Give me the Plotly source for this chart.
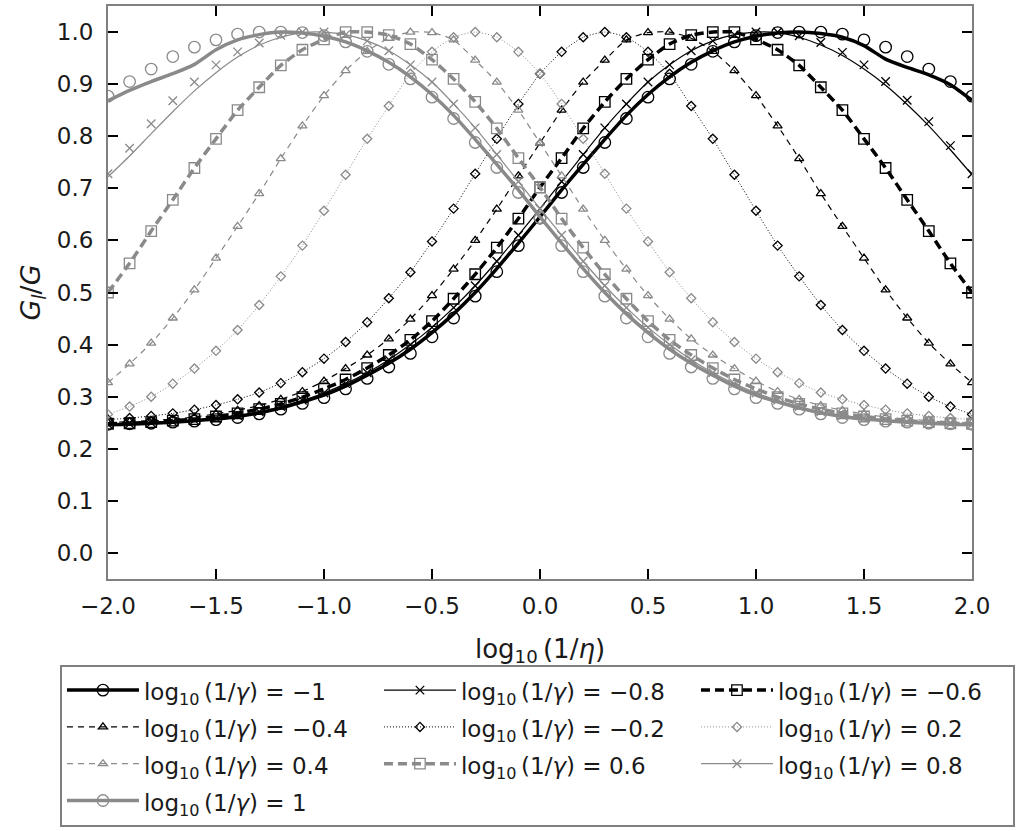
import plotly.graph_objects as go

# x positions: log10(1/eta)
eta_log = [-2.0, -1.9, -1.8, -1.7, -1.6, -1.5, -1.4, -1.3, -1.2, -1.1, -1.0,
           -0.9, -0.8, -0.7, -0.6, -0.5, -0.4, -0.3, -0.2, -0.1, 0.0,
           0.1, 0.2, 0.3, 0.4, 0.5, 0.6, 0.7, 0.8, 0.9, 1.0,
           1.1, 1.2, 1.3, 1.4, 1.5, 1.6, 1.7, 1.8, 1.9, 2.0]

gamma_labels = ["−1", "−0.8", "−0.6", "−0.4", "−0.2", "0.2", "0.4", "0.6", "0.8", "1"]

# ---- marker values (points) and line values for each log10(1/gamma) ----
pts_m10 = [0.247, 0.248, 0.249, 0.251, 0.253, 0.256, 0.260, 0.267, 0.276, 0.287, 0.298,
           0.315, 0.335, 0.357, 0.383, 0.415, 0.451, 0.493, 0.540, 0.590, 0.643,
           0.692, 0.740, 0.788, 0.834, 0.875, 0.910, 0.938, 0.963, 0.981, 0.993,
           0.999, 1.000, 1.000, 0.996, 0.985, 0.971, 0.953, 0.929, 0.905, 0.877]
line_m10 = [0.246, 0.247, 0.249, 0.251, 0.254, 0.257, 0.262, 0.269, 0.278, 0.290, 0.303,
            0.320, 0.341, 0.364, 0.391, 0.423, 0.459, 0.500, 0.546, 0.595, 0.645,
            0.697, 0.746, 0.794, 0.840, 0.880, 0.914, 0.942, 0.964, 0.981, 0.992,
            0.998, 1.000, 0.997, 0.990, 0.974, 0.948, 0.932, 0.918, 0.899, 0.869]

pts_m08 = [0.247, 0.248, 0.250, 0.252, 0.255, 0.259, 0.264, 0.271, 0.281, 0.293, 0.307,
           0.325, 0.346, 0.371, 0.400, 0.433, 0.471, 0.513, 0.560, 0.610, 0.661,
           0.713, 0.765, 0.816, 0.862, 0.904, 0.937, 0.964, 0.983, 0.995, 1.000,
           1.000, 0.993, 0.980, 0.961, 0.937, 0.905, 0.869, 0.828, 0.782, 0.728]
line_m08 = [0.247, 0.248, 0.250, 0.252, 0.255, 0.259, 0.264, 0.271, 0.281, 0.293, 0.307,
            0.325, 0.346, 0.371, 0.400, 0.433, 0.471, 0.513, 0.560, 0.610, 0.661,
            0.713, 0.765, 0.816, 0.862, 0.904, 0.937, 0.964, 0.983, 0.995, 1.000,
            0.999, 0.990, 0.975, 0.955, 0.929, 0.898, 0.861, 0.820, 0.774, 0.726]

pts_m06 = [0.248, 0.249, 0.251, 0.254, 0.257, 0.262, 0.268, 0.276, 0.286, 0.299, 0.315,
           0.333, 0.355, 0.380, 0.409, 0.445, 0.488, 0.535, 0.586, 0.642, 0.702,
           0.758, 0.815, 0.866, 0.910, 0.947, 0.977, 0.994, 1.000, 1.000, 0.986,
           0.966, 0.936, 0.894, 0.850, 0.795, 0.739, 0.678, 0.618, 0.556, 0.500]
line_m06 = pts_m06

pts_m04 = [0.250, 0.252, 0.254, 0.257, 0.261, 0.267, 0.274, 0.283, 0.295, 0.310, 0.330,
           0.354, 0.380, 0.411, 0.449, 0.494, 0.545, 0.600, 0.660, 0.724, 0.787,
           0.850, 0.904, 0.946, 0.985, 0.999, 1.000, 0.988, 0.963, 0.926, 0.878,
           0.820, 0.757, 0.690, 0.627, 0.566, 0.505, 0.451, 0.403, 0.363, 0.327]
line_m04 = pts_m04

pts_m02 = [0.256, 0.259, 0.263, 0.268, 0.275, 0.284, 0.295, 0.308, 0.326, 0.347, 0.373,
           0.405, 0.443, 0.489, 0.539, 0.598, 0.661, 0.728, 0.795, 0.862, 0.920,
           0.962, 0.990, 1.000, 0.990, 0.962, 0.920, 0.858, 0.795, 0.726, 0.657,
           0.590, 0.531, 0.476, 0.428, 0.388, 0.354, 0.325, 0.300, 0.281, 0.266]
line_m02 = pts_m02

pts_p02 = [0.266, 0.281, 0.300, 0.325, 0.354, 0.388, 0.428, 0.476, 0.531, 0.590, 0.657,
           0.726, 0.795, 0.858, 0.920, 0.962, 0.990, 1.000, 0.990, 0.962, 0.920,
           0.862, 0.795, 0.728, 0.661, 0.598, 0.539, 0.489, 0.443, 0.405, 0.373,
           0.347, 0.326, 0.308, 0.295, 0.284, 0.275, 0.268, 0.263, 0.259, 0.256]
line_p02 = pts_p02

pts_p04 = [0.327, 0.363, 0.403, 0.451, 0.505, 0.566, 0.627, 0.690, 0.757, 0.820, 0.878,
           0.926, 0.963, 0.988, 1.000, 0.999, 0.985, 0.946, 0.904, 0.850, 0.787,
           0.724, 0.660, 0.600, 0.545, 0.494, 0.449, 0.411, 0.380, 0.354, 0.330,
           0.310, 0.295, 0.283, 0.274, 0.267, 0.261, 0.257, 0.254, 0.252, 0.250]
line_p04 = pts_p04

pts_p06 = [0.500, 0.556, 0.618, 0.678, 0.739, 0.795, 0.850, 0.894, 0.936, 0.966, 0.986,
           1.000, 1.000, 0.994, 0.977, 0.947, 0.910, 0.866, 0.815, 0.758, 0.702,
           0.642, 0.586, 0.535, 0.488, 0.445, 0.409, 0.380, 0.355, 0.333, 0.315,
           0.299, 0.286, 0.276, 0.268, 0.262, 0.257, 0.254, 0.251, 0.249, 0.248]
line_p06 = pts_p06

pts_p08 = [0.728, 0.777, 0.824, 0.868, 0.904, 0.937, 0.962, 0.979, 0.994, 1.000, 1.000,
           0.995, 0.983, 0.964, 0.937, 0.904, 0.862, 0.816, 0.765, 0.713, 0.661,
           0.610, 0.560, 0.513, 0.471, 0.433, 0.400, 0.371, 0.346, 0.325, 0.307,
           0.293, 0.281, 0.271, 0.264, 0.259, 0.255, 0.252, 0.250, 0.248, 0.247]
line_p08 = [0.722, 0.762, 0.805, 0.847, 0.887, 0.922, 0.952, 0.975, 0.990, 0.999, 1.000,
            0.995, 0.983, 0.964, 0.937, 0.904, 0.862, 0.816, 0.765, 0.713, 0.661,
            0.610, 0.560, 0.513, 0.471, 0.433, 0.400, 0.371, 0.346, 0.325, 0.307,
            0.293, 0.281, 0.271, 0.264, 0.259, 0.255, 0.252, 0.250, 0.248, 0.247]

pts_p10 = [0.877, 0.905, 0.929, 0.953, 0.971, 0.985, 0.996, 1.000, 1.000, 0.999, 0.993,
           0.981, 0.963, 0.938, 0.910, 0.875, 0.834, 0.788, 0.740, 0.692, 0.643,
           0.590, 0.540, 0.493, 0.451, 0.415, 0.383, 0.357, 0.335, 0.315, 0.298,
           0.287, 0.276, 0.267, 0.260, 0.256, 0.253, 0.251, 0.249, 0.248, 0.247]
line_p10 = [0.868, 0.888, 0.905, 0.920, 0.938, 0.966, 0.985, 0.995, 1.000, 0.998, 0.992,
            0.981, 0.964, 0.942, 0.914, 0.880, 0.840, 0.794, 0.746, 0.697, 0.645,
            0.595, 0.546, 0.500, 0.459, 0.423, 0.391, 0.364, 0.341, 0.320, 0.303,
            0.290, 0.278, 0.269, 0.262, 0.257, 0.254, 0.251, 0.249, 0.247, 0.246]

points = [pts_m10, pts_m08, pts_m06, pts_m04, pts_m02, pts_p02, pts_p04, pts_p06, pts_p08, pts_p10]
lines = [line_m10, line_m08, line_m06, line_m04, line_m02, line_p02, line_p04, line_p06, line_p08, line_p10]

# ---- styles ----
BLACK = "#000000"
GRAY = "#8a8a8a"
THICK_DASH = "9px,5px"
THIN_DASH = "6px,5px"
DOT = "1px,2px"
styles = [
    dict(color=BLACK, width=3.5, dash="solid", symbol="circle-open", size=11.5),
    dict(color=BLACK, width=1.2, dash="solid", symbol="x-thin", size=8.5),
    dict(color=BLACK, width=3.5, dash=THICK_DASH, symbol="square-open", size=10.5),
    dict(color=BLACK, width=1.2, dash=THIN_DASH, symbol="triangle-up-open", size=8),
    dict(color=BLACK, width=1.0, dash=DOT, symbol="diamond-open", size=7),
    dict(color=GRAY, width=1.0, dash=DOT, symbol="diamond-open", size=7),
    dict(color=GRAY, width=1.2, dash=THIN_DASH, symbol="triangle-up-open", size=8),
    dict(color=GRAY, width=3.5, dash=THICK_DASH, symbol="square-open", size=10.5),
    dict(color=GRAY, width=1.2, dash="solid", symbol="x-thin", size=8.5),
    dict(color=GRAY, width=3.5, dash="solid", symbol="circle-open", size=11.5),
]

fig = go.Figure()
for lab, ys_pts, ys_line, st in zip(gamma_labels, points, lines, styles):
    fig.add_trace(go.Scatter(
        x=eta_log, y=ys_line, mode="lines", showlegend=False, hoverinfo="skip",
        line=dict(color=st["color"], width=st["width"], dash=st["dash"], shape="spline", smoothing=0.6)))
    fig.add_trace(go.Scatter(
        x=eta_log, y=ys_pts, mode="markers", showlegend=False,
        marker=dict(symbol=st["symbol"], size=st["size"], color=st["color"],
                    line=dict(color=st["color"], width=1.3))))

# legend entries
for lab, st in zip(gamma_labels, styles):
    fig.add_trace(go.Scatter(
        x=[None], y=[None], mode="lines+markers",
        name='<span style="font-size:23px">log<sub>10</sub>\u2009(1/<i>γ</i>) = ' + lab + '</span>',
        line=dict(color=st["color"], width=st["width"], dash=st["dash"]),
        marker=dict(symbol=st["symbol"], size=st["size"], color=st["color"],
                    line=dict(color=st["color"], width=1.3))))

axis_common = dict(
    showline=True, linecolor="#808080", linewidth=2, mirror="allticks",
    ticks="inside", ticklen=10, tickwidth=2, tickcolor="#000000",
    showgrid=False, zeroline=False, tickformat=".1f",
    tickfont=dict(size=23, color="#1a1a1a"),
)

fig.update_layout(
    width=1018, height=831,
    margin=dict(l=108, r=46, t=4, b=252),
    plot_bgcolor="white", paper_bgcolor="white",
    font=dict(family="DejaVu Sans", size=23, color="#1a1a1a"),
    xaxis=dict(range=[-2.0, 2.0], tickvals=[-2.0, -1.5, -1.0, -0.5, 0.0, 0.5, 1.0, 1.5, 2.0],
               title=dict(text="log<sub>10</sub>\u2009(1/<i>η</i>)", standoff=22, font=dict(size=26)),
               ticklabelstandoff=5, **axis_common),
    yaxis=dict(range=[-0.05, 1.05], tickvals=[0.0, 0.1, 0.2, 0.3, 0.4, 0.5, 0.6, 0.7, 0.8, 0.9, 1.0],
               title=dict(text="<i>G<sub>l</sub></i>/<i>G</i>", standoff=8, font=dict(size=27)),
               ticklabelstandoff=8, **axis_common),
    legend=dict(
        orientation="h", x=-0.0556, xanchor="left", y=-0.1496, yanchor="top",
        bordercolor="#808080", borderwidth=2, bgcolor="white",
        font=dict(size=26, color="#1a1a1a"),
        itemwidth=72, entrywidth=230, entrywidthmode="pixels",
        traceorder="normal",
    ),
)

fig.write_html("out.html")
